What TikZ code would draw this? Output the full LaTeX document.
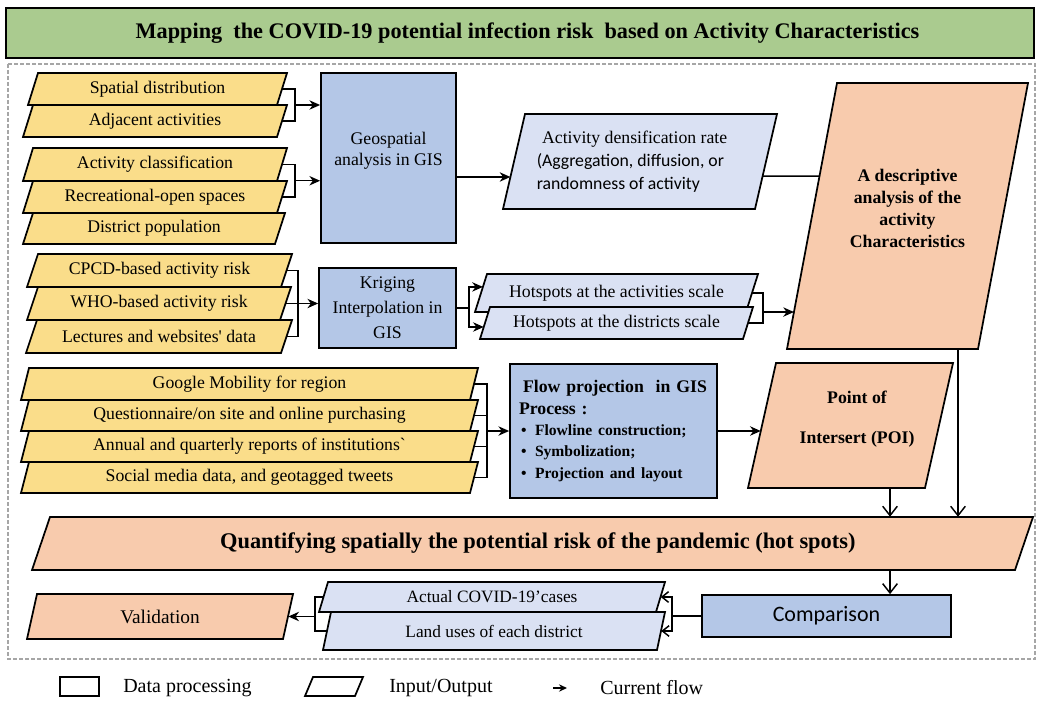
\documentclass[tikz,border=0pt]{standalone}
\usepackage{fontspec}
\setmainfont{Liberation Serif}
\newfontfamily\calfont{Carlito}
\usetikzlibrary{arrows.meta,calc}
\definecolor{cYel}{RGB}{250,221,138}
\definecolor{cProc}{RGB}{180,199,231}
\definecolor{cOut}{RGB}{218,225,243}
\definecolor{cPeach}{RGB}{248,203,173}
\definecolor{cGreen}{RGB}{170,203,143}
\tikzset{
  shp/.style={draw=black, line width=1.3pt},
  wh/.style 2 args={minimum width={#1*0.75pt}, minimum height={#2*0.75pt}},
  pnode/.style={inner sep=0pt, align=center, font=\fontsize{13.3}{16}\selectfont},
  rbox/.style={shp, inner sep=0pt, align=center, font=\fontsize{13.3}{16}\selectfont},
  txt/.style={inner sep=0pt, align=center, font=\fontsize{13.3}{15.75}\selectfont},
  lgtxt/.style={inner sep=0pt, font=\fontsize{15}{18}\selectfont},
  conn/.style={draw=black, line width=1.1pt},
  arr/.style={conn, -{Stealth[length=8pt,width=7pt,inset=2.5pt]}},
  barb/.style={conn, -{Straight Barb[length=7pt,width=11pt]}},
  sbarb/.style={conn, -{Straight Barb[length=5pt,width=8pt]}},
}
% #1 name, #2 fill, #3 x bottom-left, #4 y top, #5 x top-right, #6 y bottom, #7 slant, #8 node options, #9 text
\newcommand{\pgm}[9]{%
  \coordinate (#1-bl) at (#3,#6);
  \coordinate (#1-tl) at ({#3+#7},#4);
  \coordinate (#1-tr) at (#5,#4);
  \coordinate (#1-br) at ({#5-#7},#6);
  \filldraw[shp, fill=#2] (#1-bl) -- (#1-tl) -- (#1-tr) -- (#1-br) -- cycle;
  \node[pnode, minimum width={(#5-#3-#7)*0.75pt}, minimum height={(#6-#4)*0.75pt}, #8] (#1) at ({(#3+#5)/2},{(#4+#6)/2}) {#9};
}
\begin{document}
\begin{tikzpicture}[x=0.75pt,y=-0.75pt]
\useasboundingbox (0,0) rectangle (1037,702);

% title and frame
\node[shp, line width=1.5pt, fill=cGreen, wh={1028}{50}, inner sep=0pt, font=\fontsize{16.7}{20}\selectfont\bfseries] (title) at (519.5,33) {\hspace*{12pt}Mapping\ \ the COVID-19 potential infection risk\ \ based on Activity Characteristics};
\draw[gray!70, line width=0.9pt, dash pattern=on 3pt off 1.5pt] (8,64) rectangle (1035,659);

% group 1 inputs
\pgm{sd}{cYel}{28}{73}{287}{105}{10}{}{Spatial distribution}
\pgm{adj}{cYel}{23}{105}{287}{137}{10}{}{Adjacent activities}
\pgm{ac}{cYel}{23}{148}{287}{181}{10}{}{Activity classification}
\pgm{rs}{cYel}{23}{181}{287}{213}{10}{}{Recreational-open spaces}
\pgm{dp}{cYel}{23}{213}{285}{244}{10}{}{District population}

\node[rbox, fill=cProc, wh={135}{170}] (geo) at (388.5,158) {};
\node[txt] (geotxt) at (388.5,150.5) {Geospatial\\analysis in GIS};

\pgm{desc}{cPeach}{787}{83}{1028}{349}{50}{yshift=6pt, font=\fontsize{13.3}{16.5}\selectfont\bfseries}{A descriptive\\analysis of the\\activity\\Characteristics}
\pgm{dens}{cOut}{503}{114}{777}{209}{22}{xshift=-6pt, align=left, font=\fontsize{13.3}{17.25}\selectfont}{\hspace*{4pt}Activity densification rate\\{\calfont (Aggregation, diffusion, or}\\{\calfont randomness of activity}}

% group 2 inputs
\pgm{cpcd}{cYel}{27}{254}{292}{287}{11}{}{CPCD-based activity risk}
\pgm{who}{cYel}{27}{287}{291}{320}{11}{}{WHO-based activity risk}
\pgm{lec}{cYel}{26}{320}{292}{353}{11}{}{Lectures and websites\textquotesingle\ data}
\node[rbox, fill=cProc, wh={137}{80}, font=\fontsize{13.3}{18.75}\selectfont] (krig) at (387.5,308) {Kriging\\Interpolation in\\GIS};
\pgm{hact}{cOut}{475}{274}{758}{312}{12}{}{Hotspots at the activities scale}
\pgm{hdis}{cOut}{480}{307}{753}{339}{10}{}{Hotspots at the districts scale}

% group 3 inputs
\pgm{gm}{cYel}{21}{368}{478}{400}{8}{}{Google Mobility for region}
\pgm{qn}{cYel}{21}{400}{478}{431}{8}{}{Questionnaire/on site and online purchasing}
\pgm{an}{cYel}{21}{431}{478}{462}{8}{}{Annual and quarterly reports of institutions\textasciigrave}
\pgm{sm}{cYel}{21}{462}{478}{493}{8}{}{Social media data, and geotagged tweets}
\node[rbox, fill=cProc, wh={207}{134}, text width={189*0.75pt}, align=left, font=\fontsize{13.3}{16}\selectfont\bfseries] (flow) at (613.5,431) {\hspace*{3pt}Flow projection\ \ in GIS\\Process :\\{\fontsize{11.7}{16}\selectfont\hspace*{1.5pt}\makebox[10.5pt][l]{\textbullet}Flowline construction;}\\{\fontsize{11.7}{16}\selectfont\hspace*{1.5pt}\makebox[10.5pt][l]{\textbullet}Symbolization;}\\{\fontsize{11.7}{16}\selectfont\hspace*{1.5pt}\makebox[10.5pt][l]{\textbullet}Projection and layout}};
\pgm{poi}{cPeach}{748}{363}{953}{488}{28}{xshift=4.9pt, yshift=4.9pt, font=\fontsize{13.3}{16.5}\selectfont\bfseries}{Point of\\[13.5pt]Intersert (POI)}

% result bar and validation
\pgm{bar}{cPeach}{32}{517}{1033}{570}{18}{font=\fontsize{16.8}{20}\selectfont\bfseries}{\hspace*{8pt}Quantifying spatially the potential risk of the pandemic (hot spots)}
\node[rbox, fill=cProc, wh={249}{42}, font=\calfont\fontsize{16.5}{20}\selectfont] (comp) at (826.5,616) {Comparison};
\pgm{act}{cOut}{319}{582}{665}{612}{9}{font=\fontsize{13}{16}\selectfont}{Actual COVID-19’cases}
\pgm{land}{cOut}{323}{612}{665}{650}{8}{font=\fontsize{13}{16}\selectfont}{Land uses of each district}
\pgm{val}{cPeach}{27}{594}{293}{639}{10}{font=\fontsize{14.5}{17}\selectfont}{Validation}

% connectors group 1
\coordinate (bx1) at (295,0);
\draw[conn] (sd.east) -- (sd.east -| bx1) -- (adj.east -| bx1) -- (adj.east);
\coordinate (b1a) at (sd.east -| bx1);
\coordinate (b1b) at (adj.east -| bx1);
\coordinate (m1) at ($(b1a)!0.5!(b1b)$);
\draw[arr] (m1) -- (m1 -| geo.west);
\draw[conn] (ac.east) -- (ac.east -| bx1) -- (rs.east -| bx1) -- (rs.east);
\coordinate (b2a) at (ac.east -| bx1);
\coordinate (b2b) at (rs.east -| bx1);
\coordinate (m2) at ($(b2a)!0.5!(b2b)$);
\draw[arr] (m2) -- (m2 -| geo.west);
\coordinate (dl) at ($(dens-tl)!0.663!(dens-bl)$);
\draw[arr] (dl -| geo.east) -- (dl);
\coordinate (dr) at ($(dens-tr)!0.653!(dens-br)$);
\coordinate (dsl) at ($(desc-tl)!0.35!(desc-bl)$);
\draw[conn] (dr) -- (dsl);

% connectors group 2
\coordinate (bx2) at (298,0);
\draw[conn] (cpcd.east) -- (cpcd.east -| bx2) -- (lec.east -| bx2) -- (lec.east);
\draw[arr] (who.east) -- (who.east -| krig.west);
\coordinate (kb) at ($(krig.east)+(12,0)$);
\draw[conn] (krig.east) -- (kb);
\coordinate (ha) at ($(hact-tl)!0.34!(hact-bl)$);
\coordinate (hd) at ($(hdis-tl)!0.625!(hdis-bl)$);
\draw[arr] (kb) |- (ha);
\draw[arr] (kb) |- (hd);
\coordinate (hx) at (763,0);
\draw[conn] (hact.east) -- (hact.east -| hx) -- (hdis.east -| hx) -- (hdis.east);
\coordinate (dt) at ($(desc-tl)!0.861!(desc-bl)$);
\draw[arr] (dt -| hx) -- (dt);

% connectors group 3
\coordinate (bx3) at (487,0);
\draw[conn] (gm.east) -- (gm.east -| bx3) -- (sm.east -| bx3) -- (sm.east);
\draw[conn] (qn.east) -- (qn.east -| bx3);
\draw[conn] (an.east) -- (an.east -| bx3);
\draw[arr] (flow.west -| bx3) -- (flow.west);
\coordinate (pl) at ($(poi-tl)!0.544!(poi-bl)$);
\draw[arr] (pl -| flow.east) -- (pl);

% down arrows
\coordinate (pa) at ($(poi-br)+(-35,0)$);
\draw[barb] (pa) -- (pa |- bar.north);
\coordinate (da) at ($(desc-br)+(-20,0)$);
\draw[barb] (da) -- (da |- bar.north);
\coordinate (ca) at (890,0);
\draw[barb] (ca |- bar.south) -- (ca |- comp.north);

% comparison and validation
\coordinate (cb) at ($(comp.west)+(-29,0)$);
\draw[conn] (comp.west) -- (cb);
\draw[sbarb] (cb) |- (act.east);
\draw[sbarb] (cb) |- (land.east);
\coordinate (vb) at (315,0);
\draw[conn] (act.west) -- (act.west -| vb) -- (land.west -| vb) -- (land.west);
\draw[arr] (vb |- val.east) -- (val.east);

% legend
\node[shp, line width=1.2pt, wh={39}{19}, inner sep=0pt] (lgp) at (79.5,686.5) {};
\node[lgtxt, anchor=west] (lgpt) at (123,688) {Data processing};
\pgm{lgio}{white}{305}{677}{363}{696}{8}{}{}
\node[lgtxt, anchor=west] (lgiot) at (389,688) {Input/Output};
\coordinate (lga) at (553,688);
\coordinate (lgb) at (567,688);
\draw[conn, -{Stealth[length=6pt,width=5.5pt,inset=2pt]}] (lga) -- (lgb);
\node[lgtxt, anchor=west] (lgft) at (600,688) {Current flow};
\end{tikzpicture}
\end{document}
